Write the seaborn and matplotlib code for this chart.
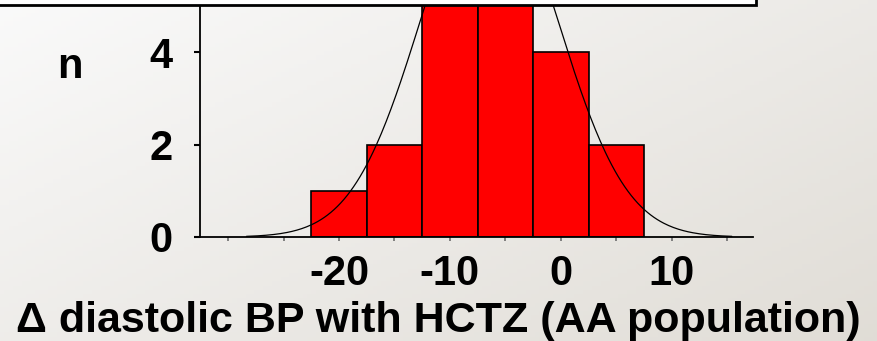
import numpy as np
import matplotlib
matplotlib.use("Agg")
import matplotlib.pyplot as plt
from matplotlib.patches import Rectangle
import seaborn as sns

# histogram data: bin centres and counts (two middle bins run off the top)
bin_centers = [-20, -15, -10, -5, 0, 5]
bin_counts = [1, 2, 8, 7, 4, 2]
bin_width = 5

x_ticks = [-30, -25, -20, -15, -10, -5, 0, 5, 10, 15]
x_tick_labels = ["", "", "-20", "", "-10", "", "0", "", "10", ""]
y_ticks = [0, 2, 4]

x_title = "Δ diastolic BP with HCTZ (AA population)"
y_title = "n"

# raw values rebuilt from the bins
values = np.repeat(bin_centers, bin_counts).astype(float)
edges = np.append(np.array(bin_centers) - bin_width / 2, bin_centers[-1] + bin_width / 2)

sns.set_theme(style="ticks")
plt.rcParams["font.family"] = ["Liberation Sans", "DejaVu Sans"]
plt.rcParams["font.weight"] = "bold"
plt.rcParams["text.color"] = "black"
plt.rcParams["xtick.labelcolor"] = "black"
plt.rcParams["ytick.labelcolor"] = "black"

W, H = 877, 341
fig = plt.figure(figsize=(W / 100, H / 100), dpi=100)

# slide background gradient
bg = fig.add_axes([0, 0, 1, 1], zorder=-10)
gx, gy = np.meshgrid(np.linspace(0, 1, 200), np.linspace(0, 1, 80))
g = 0.55 * gx + 0.45 * gy
c0 = np.array([0.98, 0.98, 0.98])
c1 = np.array([0.88, 0.866, 0.84])
img = c0[None, None, :] * (1 - g[..., None]) + c1[None, None, :] * g[..., None]
bg.imshow(img, aspect="auto", extent=[0, 1, 0, 1])
bg.axis("off")

ax = fig.add_axes([200 / W, 1 - 237 / H, 553 / W, 237 / H])
ax.patch.set_alpha(0)

sns.histplot(x=values, bins=edges, color="#ff0000", edgecolor="black",
             linewidth=1.2, alpha=1, ax=ax, zorder=2)

# fitted normal curve
mu = values.mean()
sd = values.std(ddof=1)
xs = np.linspace(mu - 3.55 * sd, mu + 3.55 * sd, 300)
ys = len(values) * bin_width / (sd * np.sqrt(2 * np.pi)) * np.exp(-0.5 * ((xs - mu) / sd) ** 2)
ax.plot(xs, ys, color="black", lw=0.9, zorder=3)

ax.set_xlim(-32.53, 17.33)
ax.set_ylim(0, 237 / 46.25)

ax.set_xticks(x_ticks)
ax.set_xticklabels(x_tick_labels, fontsize=30, fontweight="bold", color="black")
ax.set_yticks(y_ticks)
ax.set_yticklabels([str(t) for t in y_ticks], fontsize=30, fontweight="bold", color="black")
ax.tick_params(axis="x", length=3, width=1.3, color="#777777", pad=9)
ax.tick_params(axis="y", length=4, width=1.5, color="black", pad=16)
ax.set_xlabel("")
ax.set_ylabel("")

sns.despine(ax=ax)
for s in ["left", "bottom"]:
    ax.spines[s].set_color("black")
    ax.spines[s].set_linewidth(1.3)

fig.text(0.5, 9 / H, x_title, ha="center", va="baseline", fontsize=31,
         fontweight="bold", color="black")
fig.text(70 / W, 1 - 78 / H, y_title, ha="center", va="baseline", fontsize=30,
         fontweight="bold", color="black")

# frame of the panel above, cut off at the top edge
fig.patches.append(Rectangle((-10 / W, 1 - 4.5 / H), 766 / W, 20 / H, transform=fig.transFigure,
                             facecolor="white", edgecolor="black", linewidth=2, zorder=10))

fig.savefig("out.png", dpi=100)
